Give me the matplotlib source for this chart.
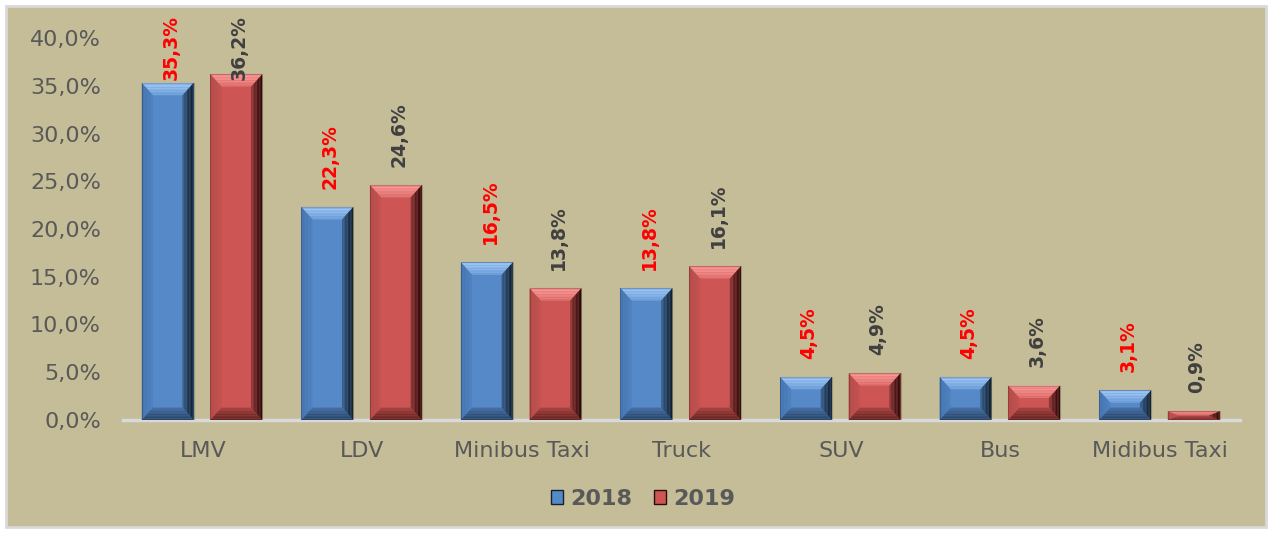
import numpy as np
import matplotlib.pyplot as plt
from matplotlib.colors import to_rgb
from matplotlib.patches import Polygon, Rectangle, Patch

categories = ['LMV', 'LDV', 'Minibus Taxi', 'Truck', 'SUV', 'Bus', 'Midibus Taxi']
share_2018 = [35.3, 22.3, 16.5, 13.8, 4.5, 4.5, 3.1]
share_2019 = [36.2, 24.6, 13.8, 16.1, 4.9, 3.6, 0.9]
series_names = ['2018', '2019']

BG = '#C4BD97'
TXT = '#595959'

# face, top, left, right, bottom (outer edge colours of the bevel)
blue_shades = ['#5589C8', '#9CC6F5', '#4676B2', '#14202E', '#2B4568']
red_shades = ['#CD5654', '#FA9A96', '#B44D4A', '#2A0C0B', '#652523']


def mix(c1, c2, t):
    a, b = np.array(to_rgb(c1)), np.array(to_rgb(c2))
    return tuple(a + (b - a) * t)


def bevel_bar(ax, rect, shades, bx=0.07, by=1.3, steps=8):
    x0 = rect.get_x()
    x1 = x0 + rect.get_width()
    h = rect.get_height()
    by = min(by, h / 2)
    bx = min(bx, rect.get_width() / 2)
    face = shades[0]
    ax.add_patch(Rectangle((x0, 0), x1 - x0, h, facecolor=face, edgecolor='none', zorder=3))
    for k in range(steps):
        a, b = k / steps, (k + 1) / steps
        o = (x0 + bx * a, by * a, x1 - bx * a, h - by * a)
        i = (x0 + bx * b, by * b, x1 - bx * b, h - by * b)
        t = 0.65 * ((k + 0.5) / steps) ** 1.5
        sides = [
            ([(o[0], o[3]), (o[2], o[3]), (i[2], i[3]), (i[0], i[3])], shades[1]),
            ([(o[0], o[1]), (o[0], o[3]), (i[0], i[3]), (i[0], i[1])], shades[2]),
            ([(o[2], o[1]), (o[2], o[3]), (i[2], i[3]), (i[2], i[1])], shades[3]),
            ([(o[0], o[1]), (o[2], o[1]), (i[2], i[1]), (i[0], i[1])], shades[4]),
        ]
        for pts, c in sides:
            ax.add_patch(Polygon(pts, closed=True, facecolor=mix(c, face, t),
                                 edgecolor='none', zorder=3))
    ax.add_patch(Rectangle((x0, 0), x1 - x0, h, facecolor='none',
                           edgecolor='#00000033', lw=0.8, zorder=4))


fig = plt.figure(figsize=(12.72, 5.33), dpi=100)
fig.patch.set_facecolor('white')
fig.patches.append(Rectangle((6 / 1272, 6 / 533), 1260 / 1272, 521 / 533,
                             transform=fig.transFigure, facecolor=BG,
                             edgecolor='#D9D9D9', lw=2, zorder=-10))

ax = fig.add_axes([123 / 1272, 1 - 420 / 533, (1240 - 123) / 1272, (420 - 38) / 533])
ax.set_facecolor('none')

x = np.arange(len(categories))
w = 0.325
bars_a = ax.bar(x - 0.22, share_2018, w, color='none')
bars_b = ax.bar(x + 0.21, share_2019, w, color='none')
for r in bars_a:
    bevel_bar(ax, r, blue_shades)
for r in bars_b:
    bevel_bar(ax, r, red_shades)

ax.set_xlim(-0.5, len(categories) - 0.5)
ax.set_ylim(0, 40)
ax.set_yticks(np.arange(0, 41, 5))
ax.set_yticklabels([f'{t:.1f}%'.replace('.', ',') for t in np.arange(0, 41, 5)])
ax.set_xticks(x)
ax.set_xticklabels(categories)
ax.tick_params(axis='y', length=0, pad=16, labelsize=16, labelcolor=TXT)
ax.tick_params(axis='x', length=0, pad=15, labelsize=16, labelcolor=TXT)
for s in ['top', 'right', 'left']:
    ax.spines[s].set_visible(False)
ax.spines['bottom'].set_color('#D9D9D9')
ax.spines['bottom'].set_linewidth(2.5)
ax.spines['bottom'].set_zorder(2)

# value labels, rotated, pushed down if they would leave the chart area
label_cap = 35.6
for bars, vals, col in [(bars_a, share_2018, '#FF0000'), (bars_b, share_2019, '#404040')]:
    for r, v in zip(bars, vals):
        yy = min(v + 1.9, label_cap)
        ax.text(r.get_x() + r.get_width() / 2 + 0.02, yy, f'{v:.1f}%'.replace('.', ','),
                rotation=90, ha='center', va='bottom', fontsize=13.5,
                fontweight='bold', color=col, zorder=5, clip_on=False)

handles = [Patch(facecolor=blue_shades[0], edgecolor=blue_shades[3]),
           Patch(facecolor=red_shades[0], edgecolor=red_shades[3])]
leg = fig.legend(handles, series_names, loc='center', bbox_to_anchor=(643 / 1272, 1 - 499 / 533),
                 ncol=2, frameon=False, handlelength=0.55, handleheight=0.6,
                 handletextpad=0.3, columnspacing=1.0,
                 prop={'size': 16, 'weight': 'bold'})
for t in leg.get_texts():
    t.set_color(TXT)

fig.savefig('out.png', dpi=100, facecolor=fig.get_facecolor())
